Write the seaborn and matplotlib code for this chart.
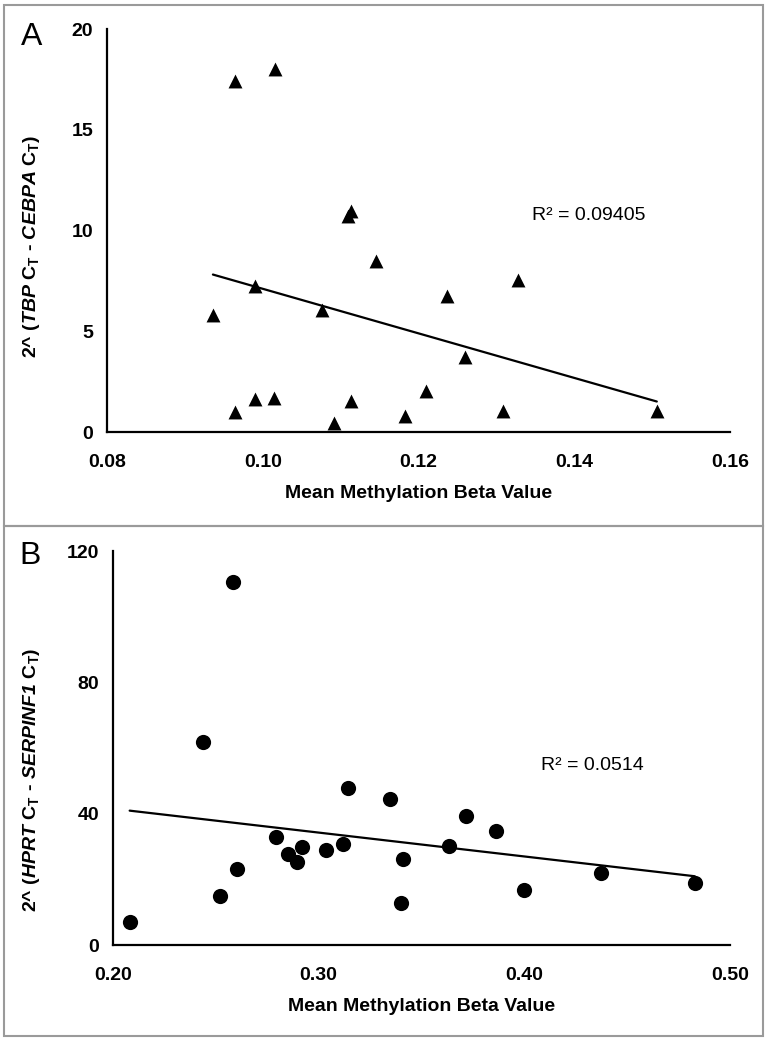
import numpy as np
import pandas as pd
import matplotlib
matplotlib.use("Agg")
import matplotlib.pyplot as plt
from matplotlib.patches import Rectangle
import seaborn as sns

# ---- Data ----
a_beta = [0.0964, 0.1016, 0.1110, 0.1113, 0.1146, 0.1328, 0.0990, 0.1237, 0.1076, 0.0936,
          0.1260, 0.1210, 0.0990, 0.1014, 0.1113, 0.0964, 0.1308, 0.1506, 0.1183, 0.1091]
a_expr = [17.4, 18.0, 10.7, 10.95, 8.47, 7.56, 7.26, 6.77, 6.04, 5.82,
          3.70, 2.02, 1.64, 1.69, 1.55, 1.00, 1.06, 1.03, 0.78, 0.45]

b_beta = [0.2584, 0.2436, 0.3145, 0.3348, 0.3715, 0.3860, 0.2792, 0.3116, 0.3636, 0.2918, 0.3035,
          0.2851, 0.3412, 0.2897, 0.2603, 0.4375, 0.4829, 0.3999, 0.2522, 0.3398, 0.2081]
b_expr = [110.5, 61.8, 47.8, 44.4, 39.4, 34.6, 32.9, 30.7, 30.3, 29.9, 28.9,
          27.8, 26.3, 25.4, 23.0, 21.9, 18.9, 16.7, 14.8, 12.8, 7.1]

a_xticks = [0.08, 0.10, 0.12, 0.14, 0.16]
a_yticks = [0, 5, 10, 15, 20]
b_xticks = [0.20, 0.30, 0.40, 0.50]
b_yticks = [0, 40, 80, 120]

a_r2 = "R² = 0.09405"
b_r2 = "R² = 0.0514"
xlabel = "Mean Methylation Beta Value"
a_ylabel = r"2^ ($\mathit{TBP}$ C$_{\mathrm{T}}$ - $\mathit{CEBPA}$ C$_{\mathrm{T}}$)"
b_ylabel = r"2^ ($\mathit{HPRT}$ C$_{\mathrm{T}}$ - $\mathit{SERPINF}\mathbf{1}$ C$_{\mathrm{T}}$)"

# ---- Style ----
sns.set_theme(style="white")
plt.rcParams["font.family"] = ["Liberation Sans", "DejaVu Sans"]
plt.rcParams["mathtext.fontset"] = "custom"
plt.rcParams["mathtext.rm"] = "Liberation Sans:bold"
plt.rcParams["mathtext.bf"] = "Liberation Sans:italic:bold"
plt.rcParams["mathtext.it"] = "Liberation Sans:italic:bold"

W, H = 766, 1047
fig = plt.figure(figsize=(W / 100, H / 100), dpi=100)

def fx(px):
    return px / W

def fy(py):
    return 1 - py / H

axA = fig.add_axes([fx(107), fy(432), fx(730) - fx(107), fy(29) - fy(432)])
axB = fig.add_axes([fx(113), fy(945), fx(730) - fx(113), fy(551) - fy(945)])

dfA = pd.DataFrame({"beta": a_beta, "expr": a_expr})
dfB = pd.DataFrame({"beta": b_beta, "expr": b_expr})

sns.scatterplot(data=dfA, x="beta", y="expr", marker="^", s=100, color="black",
                edgecolor="black", linewidth=0, ax=axA, clip_on=False, zorder=3)
sns.regplot(data=dfA, x="beta", y="expr", scatter=False, ci=None, color="black",
            line_kws={"lw": 1.6}, ax=axA, truncate=True)

sns.scatterplot(data=dfB, x="beta", y="expr", marker="o", s=120, color="black",
                edgecolor="black", linewidth=0, ax=axB, clip_on=False, zorder=3)
sns.regplot(data=dfB, x="beta", y="expr", scatter=False, ci=None, color="black",
            line_kws={"lw": 1.6}, ax=axB, truncate=True)

def style_axis(ax, xt, yt, xfmt, ylabel, ylab_coords):
    ax.set_xlim(xt[0], xt[-1])
    ax.set_ylim(yt[0], yt[-1])
    ax.set_xticks(xt)
    ax.set_yticks(yt)
    ax.set_xticklabels([xfmt.format(v) for v in xt])
    ax.set_yticklabels([str(v) for v in yt])
    for s in ["top", "right"]:
        ax.spines[s].set_visible(False)
    for s in ["left", "bottom"]:
        ax.spines[s].set_color("black")
        ax.spines[s].set_linewidth(1.6)
    ax.tick_params(axis="both", direction="out", length=4, width=1.4, color="black",
                   labelsize=14, labelcolor="black")
    ax.tick_params(axis="x", pad=12)
    ax.tick_params(axis="y", pad=6)
    for lab in ax.get_xticklabels() + ax.get_yticklabels():
        lab.set_fontweight("bold")
    ax.set_xlabel(xlabel, fontsize=14, fontweight="bold", color="black", labelpad=10)
    ax.set_ylabel(ylabel, fontsize=14, fontweight="bold", color="black")
    ax.yaxis.set_label_coords(*ylab_coords)
    ax.grid(False)
    ax.set_facecolor("none")

style_axis(axA, a_xticks, a_yticks, "{:.2f}", a_ylabel, (-0.104, 0.46))
style_axis(axB, b_xticks, b_yticks, "{:.2f}", b_ylabel, (-0.115, 0.42))

fig.text(fx(532), fy(215), a_r2, fontsize=14, va="center", ha="left", color="black")
fig.text(fx(541), fy(765), b_r2, fontsize=14, va="center", ha="left", color="black")

fig.text(fx(32), fy(37), "A", fontsize=23, va="center", ha="center", color="black")
fig.text(fx(30), fy(556), "B", fontsize=23, va="center", ha="center", color="black")

# Panel frames
fig.patches.append(Rectangle((fx(4), fy(526)), fx(763) - fx(4), fy(5) - fy(526),
                             transform=fig.transFigure, fill=False, ec="#9a9a9a", lw=1.5))
fig.patches.append(Rectangle((fx(4), fy(1036)), fx(763) - fx(4), fy(526) - fy(1036),
                             transform=fig.transFigure, fill=False, ec="#9a9a9a", lw=1.5))

fig.savefig("out.png", dpi=100, facecolor="white")
